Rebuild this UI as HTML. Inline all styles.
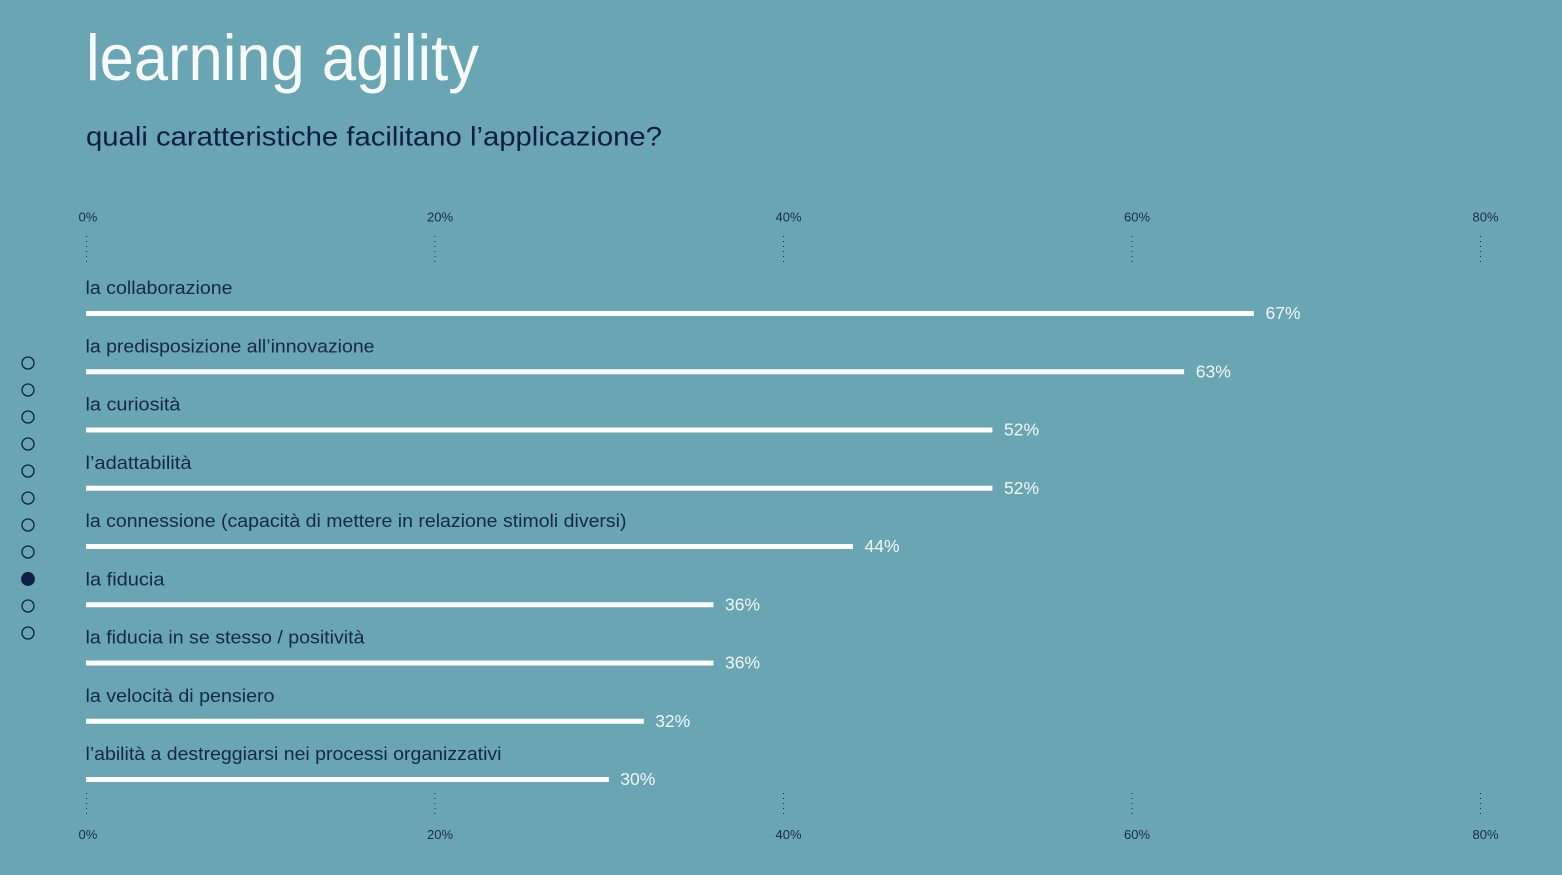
<!DOCTYPE html>
<html>
<head>
<meta charset="utf-8">
<style>
html,body{margin:0;padding:0;background:#6aa5b4;}
svg{display:block;}
text{font-family:"Liberation Sans",Arial,sans-serif;}
</style>
</head>
<body>
<svg width="1562" height="875" viewBox="0 0 1562 875" xmlns="http://www.w3.org/2000/svg">
<rect x="0" y="0" width="1562" height="875" fill="#6aa5b4"/>

<!-- Title -->
<text x="86" y="80" font-size="65" fill="#f7fbfc" textLength="393" lengthAdjust="spacingAndGlyphs">learning agility</text>
<text x="86" y="145.5" font-size="27" fill="#0e1d42" textLength="576" lengthAdjust="spacingAndGlyphs">quali caratteristiche facilitano l’applicazione?</text>

<!-- Top axis labels -->
<g font-size="13" fill="#1a2b4a">
<text x="78.5" y="221.5">0%</text>
<text x="427" y="221.5">20%</text>
<text x="775.5" y="221.5">40%</text>
<text x="1124" y="221.5">60%</text>
<text x="1472.5" y="221.5">80%</text>
</g>
<!-- Top tick dots -->
<g stroke="#1a2b4a" stroke-width="1" stroke-dasharray="1 4">
<line x1="86.5" y1="236" x2="86.5" y2="262"/>
<line x1="435" y1="236" x2="435" y2="262"/>
<line x1="783.5" y1="236" x2="783.5" y2="262"/>
<line x1="1132" y1="236" x2="1132" y2="262"/>
<line x1="1480.5" y1="236" x2="1480.5" y2="262"/>
</g>

<!-- Bottom tick dots -->
<g stroke="#1a2b4a" stroke-width="1" stroke-dasharray="1 4">
<line x1="86.5" y1="793" x2="86.5" y2="817"/>
<line x1="435" y1="793" x2="435" y2="817"/>
<line x1="783.5" y1="793" x2="783.5" y2="817"/>
<line x1="1132" y1="793" x2="1132" y2="817"/>
<line x1="1480.5" y1="793" x2="1480.5" y2="817"/>
</g>
<!-- Bottom axis labels -->
<g font-size="13" fill="#1a2b4a">
<text x="78.5" y="839">0%</text>
<text x="427" y="839">20%</text>
<text x="775.5" y="839">40%</text>
<text x="1124" y="839">60%</text>
<text x="1472.5" y="839">80%</text>
</g>

<!-- Category labels -->
<g font-size="18" fill="#15284c">
<text x="85.5" y="294" textLength="147" lengthAdjust="spacingAndGlyphs">la collaborazione</text>
<text x="85.5" y="352.25" textLength="289" lengthAdjust="spacingAndGlyphs">la predisposizione all’innovazione</text>
<text x="85.5" y="410.5" textLength="95" lengthAdjust="spacingAndGlyphs">la curiosità</text>
<text x="85.5" y="468.75" textLength="106" lengthAdjust="spacingAndGlyphs">l’adattabilità</text>
<text x="85.5" y="527" textLength="541" lengthAdjust="spacingAndGlyphs">la connessione (capacità di mettere in relazione stimoli diversi)</text>
<text x="85.5" y="585.25" textLength="79" lengthAdjust="spacingAndGlyphs">la fiducia</text>
<text x="85.5" y="643.5" textLength="279" lengthAdjust="spacingAndGlyphs">la fiducia in se stesso / positività</text>
<text x="85.5" y="701.75" textLength="189" lengthAdjust="spacingAndGlyphs">la velocità di pensiero</text>
<text x="85.5" y="760" textLength="416" lengthAdjust="spacingAndGlyphs">l’abilità a destreggiarsi nei processi organizzativi</text>
</g>

<!-- Bars -->
<g fill="#ffffff">
<rect x="86" y="311" width="1167.8" height="5"/>
<rect x="86" y="369.25" width="1098.1" height="5"/>
<rect x="86" y="427.5" width="906.4" height="5"/>
<rect x="86" y="485.75" width="906.4" height="5"/>
<rect x="86" y="544" width="766.9" height="5"/>
<rect x="86" y="602.25" width="627.5" height="5"/>
<rect x="86" y="660.5" width="627.5" height="5"/>
<rect x="86" y="718.75" width="557.8" height="5"/>
<rect x="86" y="777" width="522.9" height="5"/>
</g>

<!-- Value labels -->
<g font-size="17.5" fill="#f3f7f9">
<text x="1265.5" y="319">67%</text>
<text x="1195.8" y="377.25">63%</text>
<text x="1004" y="435.5">52%</text>
<text x="1004" y="493.75">52%</text>
<text x="864.5" y="552">44%</text>
<text x="725" y="610.25">36%</text>
<text x="725" y="668.5">36%</text>
<text x="655.2" y="726.75">32%</text>
<text x="620.3" y="785">30%</text>
</g>

<!-- Side navigation dots -->
<g stroke="#0f1f45" stroke-width="1.3" fill="none">
<circle cx="28" cy="363" r="6"/>
<circle cx="28" cy="390" r="6"/>
<circle cx="28" cy="417" r="6"/>
<circle cx="28" cy="444" r="6"/>
<circle cx="28" cy="471" r="6"/>
<circle cx="28" cy="498" r="6"/>
<circle cx="28" cy="525" r="6"/>
<circle cx="28" cy="552" r="6"/>
<circle cx="28" cy="579" r="6.3" fill="#0f1f45"/>
<circle cx="28" cy="606" r="6"/>
<circle cx="28" cy="633" r="6"/>
</g>
</svg>
</body>
</html>
